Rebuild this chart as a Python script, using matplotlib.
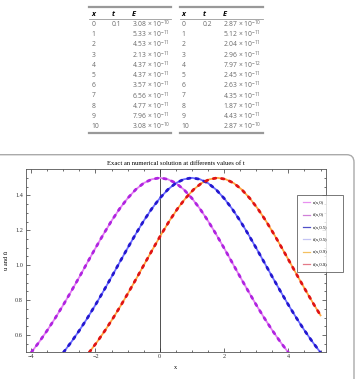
import numpy as np
import matplotlib
matplotlib.use("Agg")
import matplotlib.pyplot as plt
from matplotlib.lines import Line2D
from matplotlib.patches import FancyBboxPatch
from matplotlib.ticker import MultipleLocator

# ---- table data (errors E at t = 0.1 and t = 0.2) ----
x_rows = [str(i) for i in range(11)]
E_t01 = ["3.08", "5.33", "4.53", "2.13", "4.37", "4.37", "3.57", "6.56", "4.77", "7.96", "3.08"]
exp_t01 = [-10, -11, -11, -11, -11, -11, -11, -11, -11, -11, -10]
E_t02 = ["2.87", "5.12", "2.04", "2.96", "7.97", "2.45", "2.63", "4.35", "1.87", "4.43", "2.87"]
exp_t02 = [-10, -11, -11, -11, -12, -11, -11, -11, -11, -11, -10]

# ---- curve data ----
x_t0 = np.arange(-4.5, 4.51, 0.25)
u_t0 = [0.393, 0.444, 0.500, 0.561, 0.627, 0.698, 0.773, 0.852, 0.933, 1.016,
        1.098, 1.178, 1.254, 1.323, 1.383, 1.433, 1.470, 1.492, 1.500,
        1.492, 1.470, 1.433, 1.383, 1.323, 1.254, 1.178, 1.098, 1.016, 0.933,
        0.852, 0.773, 0.698, 0.627, 0.561, 0.500, 0.444, 0.393]

x_t05 = np.arange(-3.5, 5.01, 0.25)
u_t05 = [0.393, 0.444, 0.500, 0.561, 0.627, 0.698, 0.773, 0.852, 0.933, 1.016,
         1.098, 1.178, 1.254, 1.323, 1.383, 1.433, 1.470, 1.492, 1.500,
         1.492, 1.470, 1.433, 1.383, 1.323, 1.254, 1.178, 1.098, 1.016, 0.933,
         0.852, 0.773, 0.698, 0.627, 0.561, 0.500]

x_t09 = np.append(np.arange(-2.7, 4.81, 0.25), 5.0)
u_t09 = [0.393, 0.444, 0.500, 0.561, 0.627, 0.698, 0.773, 0.852, 0.933, 1.016,
         1.098, 1.178, 1.254, 1.323, 1.383, 1.433, 1.470, 1.492, 1.500,
         1.492, 1.470, 1.433, 1.383, 1.323, 1.254, 1.178, 1.098, 1.016, 0.933,
         0.852, 0.773, 0.713]

W, H = 358, 379
plt.rcParams["mathtext.fontset"] = "custom"
plt.rcParams["mathtext.rm"] = "Open Sans"
plt.rcParams["mathtext.it"] = "Open Sans:italic"
fig = plt.figure(figsize=(W / 100, H / 100), dpi=100)


def fx(x):
    return x / W


def fy(y):
    return 1 - y / H


# ---- table ----
tfont = "Open Sans"
body = "#6a6a6a"
rule = "#999999"
fs = 4.9
tables = [(89, 170.7, (91.7, 111.7, 131.7), "0.1", E_t01, exp_t01),
          (180, 262.7, (181.7, 202.7, 223.3), "0.2", E_t02, exp_t02)]
for x0, x1, cols, tval, Evals, exps in tables:
    for yy, lw in [(6.7, 1.6), (18.6, 0.6), (133.3, 1.6)]:
        fig.add_artist(Line2D([fx(x0), fx(x1)], [fy(yy), fy(yy)],
                              transform=fig.transFigure, color=rule, lw=lw))
    for c, lab in zip(cols, ["x", "t", "E"]):
        fig.text(fx(c), fy(14.0), lab, fontsize=5.3, fontweight="bold", fontstyle="italic",
                 family=tfont, va="center", ha="left", color="black")
    for i in range(11):
        yy = 24.3 + i * 10.24
        fig.text(fx(cols[0]), fy(yy), x_rows[i], fontsize=fs, family=tfont,
                 va="center", ha="left", color=body)
        if i == 0:
            fig.text(fx(cols[1]), fy(yy), tval, fontsize=fs, family=tfont,
                     va="center", ha="left", color=body)
        fig.text(fx(cols[2]), fy(yy), Evals[i] + r" $\times$ 10$^{%d}$" % exps[i],
                 fontsize=fs, family=tfont, va="center", ha="left", color=body)

# ---- rounded frame around the plot ----
fig.add_artist(FancyBboxPatch((-0.02, -0.05), fx(354) + 0.02, fy(154.7) + 0.05,
                              boxstyle="round,pad=0,rounding_size=0.02",
                              transform=fig.transFigure, fill=False,
                              ec="#aaaaaa", lw=1.0))

# ---- plot ----
plt.rcParams["font.family"] = ["Liberation Serif", "DejaVu Serif"]
ax = fig.add_axes([fx(25.7), fy(351.7), fx(326) - fx(25.7), fy(169.3) - fy(351.7)])

styles = [
    (x_t0, u_t0, "#e27cf2", "#b024e0", "#e890f0", "#d080d8", "0"),
    (x_t05, u_t05, "#6a6aff", "#2418d0", "#5050c8", "#c4c4f4", "0.5"),
    (x_t09, u_t09, "#ffa640", "#e01414", "#f4c060", "#e47a88", "0.9"),
]
for xs, us, c_exact, c_num, _, _, _ in styles:
    ax.plot(xs, us, color=c_exact, lw=1.3, zorder=2)
    ax.plot(xs, us, color=c_num, lw=2.0, linestyle=(0, (0.9, 2.1)),
            dash_capstyle="round", zorder=3)

ax.axvline(0, color="#333333", lw=0.6, zorder=1)
ax.set_xlim(-4.17, 5.17)
ax.set_ylim(0.505, 1.549)
ax.xaxis.set_major_locator(MultipleLocator(2))
ax.xaxis.set_minor_locator(MultipleLocator(0.5))
ax.yaxis.set_major_locator(MultipleLocator(0.2))
ax.yaxis.set_minor_locator(MultipleLocator(0.05))
ax.tick_params(which="both", direction="in", top=True, right=True, labelsize=4.5,
               pad=2, width=0.5, colors="#333333")
ax.tick_params(which="major", length=3)
ax.tick_params(which="minor", length=1.6)
for s in ax.spines.values():
    s.set_linewidth(0.6)
    s.set_color("#555555")

ax.set_title("Exact an numerical solution at differents values of t", fontsize=4.8, pad=3)
ax.set_xlabel("x", fontsize=4.5, labelpad=4)
ax.set_ylabel("u and ũ", fontsize=4.5, labelpad=4)

# ---- legend ----
handles = []
labels = []
for _, _, _, _, c_u, c_n, tv in styles:
    handles.append(Line2D([], [], color=c_u, lw=0.9))
    labels.append("u(x,%s)" % tv)
    handles.append(Line2D([], [], color=c_n, lw=0.9))
    labels.append("ũ(x,%s)" % tv)
lx0, lx1, ly0, ly1 = fx(297.3), fx(343.3), fy(272.7), fy(195)
leg = fig.legend(handles, labels, loc="upper left",
                 bbox_to_anchor=(lx0, ly0, lx1 - lx0, ly1 - ly0),
                 mode="expand", fontsize=3.3, handlelength=1.45, labelspacing=1.75,
                 frameon=True, fancybox=False, borderpad=1.25, borderaxespad=0,
                 handletextpad=0.75)
leg.get_frame().set_edgecolor("#555555")
leg.get_frame().set_linewidth(0.7)

fig.savefig("out.png", dpi=100)
